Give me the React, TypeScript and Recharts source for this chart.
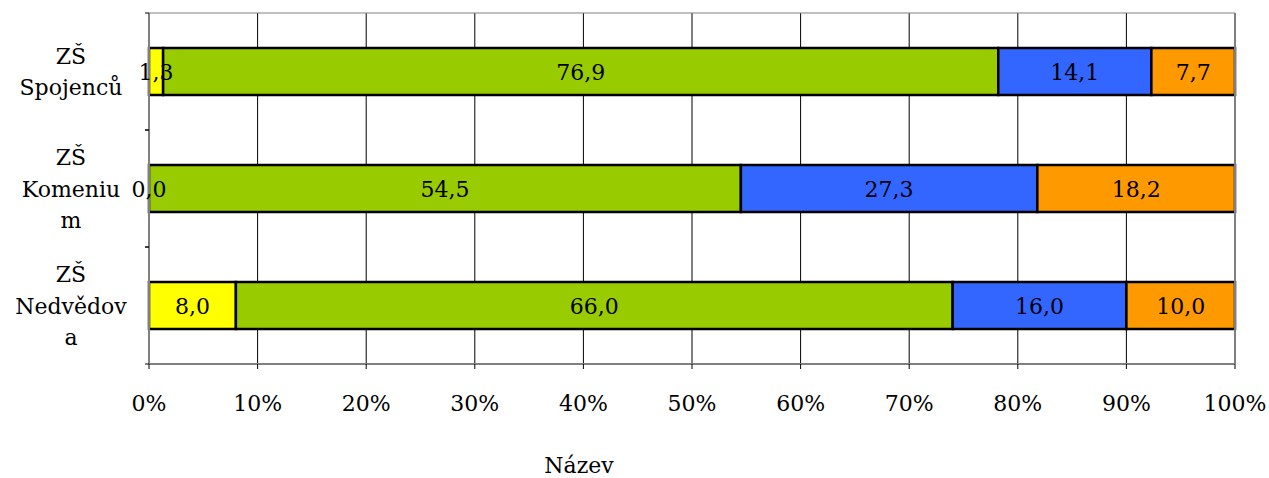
import React from "react";
import {
  BarChart,
  Bar,
  XAxis,
  YAxis,
  CartesianGrid,
  LabelList,
  ReferenceLine,
  ReferenceDot,
} from "recharts";

// schools, wrapped the way the axis prints them
const schools = ["ZŠ Spojenců", "ZŠ Komenium", "ZŠ Nedvědova"];
const schoolLines = [
  ["ZŠ", "Spojenců"],
  ["ZŠ", "Komeniu", "m"],
  ["ZŠ", "Nedvědov", "a"],
];

// share of answers per school (%)
const yellowShare = [1.3, 0.0, 8.0];
const greenShare = [76.9, 54.5, 66.0];
const blueShare = [14.1, 27.3, 16.0];
const orangeShare = [7.7, 18.2, 10.0];

const percentTicks = [0, 10, 20, 30, 40, 50, 60, 70, 80, 90, 100];

const data = schools.map((name, i) => ({
  name,
  lines: schoolLines[i],
  yellow: yellowShare[i],
  green: greenShare[i],
  blue: blueShare[i],
  orange: orangeShare[i],
}));

const FONT = "DejaVu Serif";
const FONT_SIZE = 22;
const HALF_BAND = 58.5;

const fmt = (v: any) => Number(v).toFixed(1).replace(".", ",");

// category label plus the small tick marks on the band borders
function SchoolTick(props: any) {
  const { y, index } = props;
  const lines: string[] = data[index]?.lines ?? [];
  const step = 31.5;
  const start = y - ((lines.length - 1) * step) / 2;
  return (
    <g>
      <line x1={145} x2={149} y1={y - HALF_BAND} y2={y - HALF_BAND} stroke="#000" />
      <line x1={145} x2={149} y1={y + HALF_BAND} y2={y + HALF_BAND} stroke="#000" />
      {lines.map((ln, k) => (
        <text
          key={k}
          x={71}
          y={start + k * step + 8}
          textAnchor="middle"
          fontFamily={FONT}
          fontSize={FONT_SIZE}
          fill="#000"
        >
          {ln}
        </text>
      ))}
    </g>
  );
}

// value label in the middle of a segment
function SegmentLabel(props: any) {
  const { x, y, width, height, value } = props;
  return (
    <text
      x={Number(x) + Number(width) / 2}
      y={Number(y) + Number(height) / 2 + 8}
      textAnchor="middle"
      fontFamily={FONT}
      fontSize={FONT_SIZE}
      fill="#000"
    >
      {fmt(value)}
    </text>
  );
}

// label for the first segment, placed at its centre on the value axis
function DotLabel(props: any) {
  const { viewBox, value } = props;
  const cx = viewBox?.cx ?? viewBox?.x ?? 0;
  const cy = viewBox?.cy ?? viewBox?.y ?? 0;
  return (
    <text x={cx} y={cy + 8} textAnchor="middle" fontFamily={FONT} fontSize={FONT_SIZE} fill="#000">
      {value}
    </text>
  );
}

export default function App() {
  const series = [
    { key: "yellow", color: "#FFFF00" },
    { key: "green", color: "#99CC00" },
    { key: "blue", color: "#3366FF" },
    { key: "orange", color: "#FF9900" },
  ];

  return (
    <div style={{ position: "absolute", left: 0, top: 0, background: "#fff" }}>
      <BarChart
        width={1269}
        height={478}
        data={data}
        layout="vertical"
        barSize={47}
        margin={{ top: 13, right: 34, left: 0, bottom: 0 }}
      >
        <CartesianGrid horizontal={false} stroke="#000" strokeWidth={1} />
        <CartesianGrid vertical={false} horizontalPoints={[13]} stroke="#808080" />
        <XAxis
          type="number"
          domain={[0, 100]}
          ticks={percentTicks}
          tickFormatter={(v) => `${v}%`}
          height={114}
          tickSize={5}
          tickMargin={26}
          axisLine={{ stroke: "#808080", strokeWidth: 2 }}
          tickLine={{ stroke: "#000" }}
          tick={{ fill: "#000", fontSize: FONT_SIZE, fontFamily: FONT }}
          label={{
            value: "Název",
            position: "insideBottom",
            offset: 5,
            dx: -113,
            fill: "#000",
            fontSize: FONT_SIZE,
            fontFamily: FONT,
          }}
        />
        <YAxis
          type="category"
          dataKey="name"
          width={149}
          axisLine={{ stroke: "#808080", strokeWidth: 2 }}
          tickLine={false}
          tick={<SchoolTick />}
          interval={0}
        />
        <ReferenceLine x={100} stroke="#808080" strokeWidth={2} />
        {series.map((s) => (
          <Bar
            key={s.key}
            dataKey={s.key}
            stackId="share"
            fill={s.color}
            stroke="#000"
            strokeWidth={2.5}
            isAnimationActive={false}
          >
            {s.key !== "yellow" && <LabelList dataKey={s.key} content={<SegmentLabel />} />}
          </Bar>
        ))}
        {data.map((d) => (
          <ReferenceDot
            key={d.name}
            x={d.yellow / 2}
            y={d.name}
            r={0}
            fill="none"
            stroke="none"
            label={<DotLabel value={fmt(d.yellow)} />}
          />
        ))}
      </BarChart>
    </div>
  );
}
